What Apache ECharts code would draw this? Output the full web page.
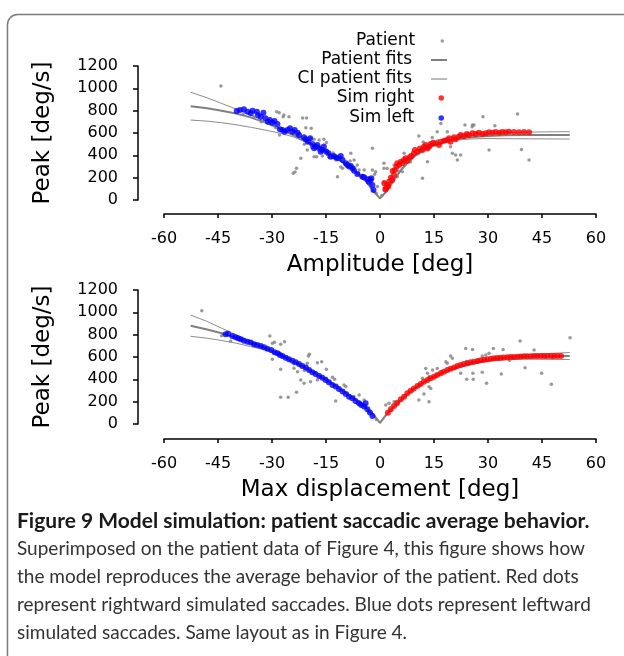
<!DOCTYPE html>
<html><head><meta charset="utf-8">
<script src="https://cdn.jsdelivr.net/npm/echarts@6/dist/echarts.min.js"></script>
<style>html,body{margin:0;padding:0;background:#fff}#c{width:624px;height:656px}</style>
</head><body><div id="c"></div>
<script>
// ---------- axis / text content ----------
const xTicks = [-60, -45, -30, -15, 0, 15, 30, 45, 60];
const yTicks = [0, 200, 400, 600, 800, 1000, 1200];
const xNames = ['Amplitude [deg]', 'Max displacement [deg]'];
const yName = 'Peak [deg/s]';
const legendNames = ['Patient', 'Patient fits', 'CI patient fits', 'Sim right', 'Sim left'];
const captionTitle = 'Figure 9 Model simulation: patient saccadic average behavior.';
const captionLines = [
  'Superimposed on the patient data of Figure 4, this figure shows how',
  'the model reproduces the average behavior of the patient. Red dots',
  'represent rightward simulated saccades. Blue dots represent leftward',
  'simulated saccades. Same layout as in Figure 4.'
];

// ---------- top panel: amplitude ----------
const fitA = [[-52.6,840],[-48,822],[-44,800],[-40,774],[-36,740],[-32,695],[-28,640],[-24,580],[-20,515],[-16,450],[-12,375],[-8,285],[-4,170],[-2,85],[0,15],[2,85],[4,185],[6,275],[8,345],[10,402],[12,445],[15,490],[18,523],[22,550],[26,565],[30,574],[35,579],[40,581],[46,582],[52.7,583]];
const ciHiA = [[-52.6,965],[-48,915],[-44,865],[-40,815],[-36,762],[-32,705],[-28,645],[-24,584],[-20,519],[-16,454],[-12,379],[-8,289],[-4,174],[-2,88],[0,17],[2,88],[4,189],[6,279],[8,350],[10,407],[12,451],[15,497],[18,531],[22,560],[26,579],[30,592],[35,602],[40,607],[46,610],[52.7,612]];
const ciLoA = [[-52.6,716],[-48,706],[-44,692],[-40,674],[-36,652],[-32,627],[-28,600],[-24,565],[-20,508],[-16,446],[-12,371],[-8,281],[-4,166],[-2,82],[0,13],[2,82],[4,181],[6,271],[8,340],[10,397],[12,438],[15,482],[18,514],[22,539],[26,548],[30,550],[35,549],[40,548],[46,547],[52.7,546]];
const patientA = [[-44.2,1021],[-28.7,791],[-27.9,582],[-26.7,761],[-25.3,746],[-28,782],[-26.9,746],[-21.5,735],[-20.4,735],[-19.1,642],[-20.6,648],[-19.3,552],[-18.3,543],[-16.9,537],[-15.6,543],[-14.9,516],[-23.2,284],[-24.1,239],[-23.6,250],[-22,373],[-20.2,448],[-18.3,388],[-17.6,388],[-16,394],[-14.2,382],[-12.3,358],[-11.8,209],[-10.4,284],[-8.3,349],[-7.2,358],[-6.3,313],[-5.8,269],[-4.4,269],[-2.6,134],[-2.1,463],[-0.7,120],[1.1,284],[1.1,164],[-8.1,418],[-10.9,295],
  [-38,770],[-35,745],[-33,700],[-31,690],[-29,650],[-26,610],[-24,590],[-22,560],[-21,500],[-19,470],[-17,470],[-15,450],[-13,420],[-11,380],[-9,330],[-7,290],[-6,240],[-5,220],[-3,200],[-1.5,230],[-1,60],[0.5,40],
  [16.9,686],[18.7,612],[15.9,612],[23.6,671],[25.7,671],[26.1,671],[28.6,746],[38.2,770],[31.9,665],[30.3,447],[39.3,453],[41.4,358],[10.8,573],[11.8,194],[19.6,477],[21,403],[21.5,358],[20.1,418],[22.4,403],[13.2,343],[6.7,418],[7.6,373],[8.5,343],[1.1,328],[2,283],[3.9,313],[-2.1,268],[-1.2,253],[6.2,253],[4.8,209],[25.6,656],
  [3,150],[5,260],[7,330],[9,400],[11,440],[12.5,470],[14,500],[16,530],[18,540],[20,560],[24,580],[27,600],[29,590],[33,600],[36,610],[12,520],[14.5,560]];
const simRightA = [[1.2,150],[1.5,95],[2.3,120],[3.0,200],[3.5,260],[4.8,330],[1.6,104],[2.0,134],[2.5,164],[3.4,179],[3.9,224],[4.1,268],[4.6,298],[5.3,313],[5.8,343],[6.2,328],[6.7,358],[7.1,373],[7.6,349],[8.3,382],[8.7,394],[9.4,418],[9.7,447],[10.4,432],[11.1,462],[11.8,447],[12.2,477],[12.7,492],[13.2,462],[13.6,477],[14.1,501],[14.8,513],[15.5,507],[16.4,492],[16.9,522],[17.8,531],[18.7,537],[19.2,552],[19.6,522],[20.6,561],[21.0,543],[21.9,567],[22.4,582],[23.3,573],[24.1,591],[24.7,582],[25.7,597],[26.6,591],[27.5,603],[28.4,591],[29.4,597],[30.3,606],[31.2,603],[32.1,609],[33.1,603],[34.0,609],[34.9,606],[35.8,612],[37.2,609],[38.6,606],[40.0,609],[41.4,606]];
const simLeftA = [[-39.8,797],[-38.9,806],[-37.8,812],[-36.8,791],[-35.9,776],[-35.4,800],[-34.2,791],[-33.9,761],[-33.1,746],[-32.4,782],[-31.8,731],[-31.1,701],[-30.6,716],[-29.9,692],[-29.3,707],[-28.5,681],[-27.8,633],[-27.1,627],[-26.5,612],[-25.7,627],[-25.0,642],[-24.3,612],[-23.7,627],[-22.9,603],[-22.5,582],[-21.1,561],[-20.6,543],[-20.0,522],[-19.4,552],[-18.8,501],[-18.3,463],[-17.9,478],[-17.4,493],[-16.9,463],[-16.5,433],[-16.0,448],[-15.6,478],[-14.9,433],[-14.3,418],[-13.7,388],[-12.9,394],[-12.3,382],[-11.7,373],[-10.9,394],[-10.4,358],[-9.5,328],[-9.1,313],[-8.6,299],[-8.1,305],[-7.7,284],[-7.2,263],[-6.3,233],[-4.9,209],[-4.4,203],[-3.5,185],[-3.1,164],[-2.6,179],[-2.1,134],[-1.8,90],[-2.4,195]];

// ---------- bottom panel: max displacement ----------
const fitD = [[-52.6,880],[-48,847],[-44,812],[-40,772],[-36,728],[-32,680],[-28,625],[-24,560],[-20,490],[-16,415],[-12,335],[-8,245],[-4,148],[-2,90],[0,10],[2,95],[4,160],[6,222],[8,280],[10,328],[12,370],[15,422],[18,466],[22,512],[26,546],[30,570],[35,590],[40,601],[46,607],[52.7,610]];
const ciHiD = [[-52.6,976],[-48,918],[-44,858],[-40,798],[-36,742],[-32,690],[-28,632],[-24,565],[-20,494],[-16,418],[-12,338],[-8,248],[-4,150],[-2,92],[0,12],[2,97],[4,162],[6,224],[8,282],[10,331],[12,374],[15,426],[18,471],[22,518],[26,554],[30,580],[35,603],[40,618],[46,630],[52.7,640]];
const ciLoD = [[-52.6,785],[-48,768],[-44,748],[-40,724],[-36,694],[-32,664],[-28,615],[-24,555],[-20,486],[-16,412],[-12,332],[-8,242],[-4,146],[-2,88],[0,8],[2,93],[4,158],[6,220],[8,278],[10,325],[12,366],[15,418],[18,461],[22,506],[26,538],[30,560],[35,575],[40,580],[46,579],[52.7,578]];
const patientD = [[-49.5,1015],[-41.5,743],[-30.6,788],[-29.9,723],[-29.3,732],[-26.5,737],[-27.6,714],[-29.9,579],[-28.8,633],[-27.6,490],[-23.9,499],[-22.9,469],[-21.1,514],[-20.2,544],[-19.6,624],[-19.9,608],[-17.4,549],[-16.2,558],[-27.6,239],[-25.5,239],[-23.2,284],[-22,394],[-21.1,364],[-19.3,379],[-17.4,394],[-14.9,490],[-13.2,418],[-12.6,400],[-12.3,206],[-10,350],[-9.5,335],[-7.2,245],[-5.8,260],[-6.3,185],[-4.4,215],[1.6,171],
  [-44,790],[-38,760],[-35,715],[-33,690],[-31,670],[-28,640],[-26,600],[-25,570],[-24,540],[-22,520],[-21,480],[-18,460],[-17,430],[-15,410],[-14,380],[-11,310],[-9,270],[-8,240],[-6,200],[-5,170],[-3,110],[-1,40],
  [23.8,677],[25.7,668],[19.6,609],[20.1,588],[18.3,558],[18.7,543],[31.5,677],[34.2,668],[38.9,743],[52.8,773],[42.8,662],[40.3,504],[44.9,454],[47.6,355],[29.6,364],[33.7,448],[28.4,463],[25.8,454],[25.9,400],[24.1,400],[22.4,454],[29.4,618],[28.4,609],[30.3,633],[15.9,498],[14.6,483],[13.2,454],[13.6,424],[12.7,498],[13.6,334],[14.1,319],[11.8,409],[10.8,215],[13.6,200],[12.2,269],[2.5,185],[3.9,200],[4.8,170],
  [3,120],[5,190],[7,250],[9,300],[11,350],[16,440],[17,470],[20,500],[22,520],[26,550],[27,570],[32,590],[35,600],[37,590],[41,600],[44,610],[46,600],[48,598],[24,560],[36,570]];
const simRightD = [[2.2,101],[3.0,131],[3.9,161],[4.8,191],[5.8,221],[6.7,245],[7.6,275],[8.5,298],[9.4,319],[10.4,340],[11.3,358],[12.2,379],[13.2,394],[14.1,409],[15.0,424],[15.9,439],[16.9,454],[17.8,468],[18.7,483],[19.6,495],[20.6,507],[21.5,519],[22.4,528],[23.3,537],[24.3,543],[25.2,552],[26.1,558],[27.1,564],[28.0,570],[28.9,576],[29.8,579],[30.8,585],[31.7,588],[32.6,591],[33.5,594],[34.4,596],[35.4,598],[36.3,600],[37.2,601],[38.2,603],[39.1,604],[40.0,606],[40.9,607],[41.9,607],[42.8,608],[43.7,608],[44.7,609],[45.6,609],[46.5,609],[47.5,610],[48.4,610],[49.3,610],[50.3,610]];
const simLeftD = [[-42.9,803],[-42.2,809],[-41.0,788],[-40.1,776],[-39.4,767],[-38.7,758],[-37.8,746],[-36.8,737],[-35.9,729],[-35.0,714],[-34.1,708],[-33.1,699],[-32.2,687],[-31.3,675],[-30.2,663],[-29.3,642],[-28.5,633],[-27.8,618],[-27.1,609],[-26.2,594],[-25.3,579],[-24.3,567],[-23.4,552],[-22.5,538],[-21.6,520],[-20.6,505],[-19.7,484],[-18.8,463],[-17.9,448],[-16.9,430],[-16.0,415],[-15.1,394],[-14.2,373],[-13.2,350],[-12.3,335],[-11.4,314],[-10.4,290],[-9.5,269],[-8.6,245],[-7.7,230],[-6.8,206],[-5.8,185],[-5.2,171],[-4.4,156],[-4.0,185],[-3.5,132],[-2.8,102],[-2.1,72]];

// ---------- build ----------
const FONT = 'DejaVu Sans';
const GRAY = '#808080';
const chart = echarts.init(document.getElementById('c'), null, {renderer: 'canvas'});
const gridTops = [66, 290];
const xOffsets = [14, 15];
const panels = [
  {fit: fitA, hi: ciHiA, lo: ciLoA, pat: patientA, sr: simRightA, sl: simLeftA},
  {fit: fitD, hi: ciHiD, lo: ciLoD, pat: patientD, sr: simRightD, sl: simLeftD}
];

const grids = [], xAxes = [], yAxes = [], series = [];
panels.forEach((p, i) => {
  grids.push({left: 164, width: 432, top: gridTops[i], height: 134});
  xAxes.push({
    gridIndex: i, type: 'value', min: xTicks[0], max: xTicks[xTicks.length - 1],
    interval: xTicks[1] - xTicks[0], offset: xOffsets[i],
    name: xNames[i], nameLocation: 'middle', nameGap: 40,
    nameTextStyle: {fontFamily: FONT, fontSize: 23, color: '#000'},
    axisLine: {onZero: false, lineStyle: {color: '#000', width: 1.5}},
    axisTick: {show: true, inside: false, length: 4, lineStyle: {color: '#000', width: 1.5}},
    axisLabel: {fontFamily: FONT, fontSize: 16, color: '#000', margin: 17, formatter: v => String(v)},
    splitLine: {show: false}
  });
  yAxes.push({
    gridIndex: i, type: 'value', min: yTicks[0], max: yTicks[yTicks.length - 1],
    interval: yTicks[1] - yTicks[0], offset: 26,
    name: yName, nameLocation: 'middle', nameGap: 83,
    nameTextStyle: {fontFamily: FONT, fontSize: 23, color: '#000'},
    axisLine: {show: true, onZero: false, lineStyle: {color: '#000', width: 1.5}},
    axisTick: {show: true, inside: false, length: 5, lineStyle: {color: '#000', width: 1.5}},
    axisLabel: {fontFamily: FONT, fontSize: 16, color: '#000', margin: 20, formatter: v => String(v)},
    splitLine: {show: false}
  });
  const ax = {xAxisIndex: i, yAxisIndex: i};
  series.push(Object.assign({type: 'line', name: legendNames[2], data: p.hi, symbol: 'none', z: 2,
    itemStyle: {color: '#8c8c8c'}, lineStyle: {color: '#8c8c8c', width: 1}}, ax));
  series.push(Object.assign({type: 'line', name: legendNames[2], data: p.lo, symbol: 'none', z: 2,
    itemStyle: {color: '#8c8c8c'}, lineStyle: {color: '#8c8c8c', width: 1}}, ax));
  series.push(Object.assign({type: 'line', name: legendNames[1], data: p.fit, symbol: 'none', z: 2,
    itemStyle: {color: GRAY}, lineStyle: {color: GRAY, width: 2}}, ax));
  series.push(Object.assign({type: 'scatter', name: legendNames[0], data: p.pat, symbolSize: 3.5, z: 3,
    itemStyle: {color: GRAY}}, ax));
  series.push(Object.assign({type: 'scatter', name: legendNames[3], data: p.sr, symbolSize: 6, z: 4,
    itemStyle: {color: '#ff0000'}}, ax));
  series.push(Object.assign({type: 'scatter', name: legendNames[4], data: p.sl, symbolSize: 6, z: 4,
    itemStyle: {color: '#0000ff'}}, ax));
});

const legendLayout = [
  {top: 31, w: 10, h: 3.5, pad: 17, right: 180, icon: 'circle'},
  {top: 50, w: 16, h: 2, pad: 14, right: 177, icon: 'rect'},
  {top: 69, w: 16, h: 1.2, pad: 14, right: 177, icon: 'rect'},
  {top: 88, w: 10, h: 5.5, pad: 17, right: 180, icon: 'circle'},
  {top: 108, w: 10, h: 5.5, pad: 17, right: 180, icon: 'circle'}
];
const legends = legendNames.map((n, k) => ({
  data: [{name: n, icon: legendLayout[k].icon}], orient: 'vertical', align: 'right', padding: 0,
  top: legendLayout[k].top, right: legendLayout[k].right,
  itemWidth: legendLayout[k].w, itemHeight: legendLayout[k].h,
  selectedMode: false,
  textStyle: {fontFamily: FONT, fontSize: 17, color: '#000', lineHeight: 20, padding: [0, legendLayout[k].pad, 0, 0]}
}));

const graphics = [
  {type: 'rect', silent: true, shape: {x: 7.5, y: 14.5, width: 660, height: 700, r: 10},
   style: {fill: 'none', stroke: '#7a7a7a', lineWidth: 1.5}},
  {type: 'text', silent: true, style: {x: 17, y: 521, text: captionTitle, fill: '#1a1a1a',
   font: 'bold 21px Lato', verticalAlign: 'middle'}}
];
captionLines.forEach((t, k) => graphics.push({type: 'text', silent: true,
  style: {x: 17, y: 549 + 28 * k, text: t, fill: '#333', font: '19px Lato', verticalAlign: 'middle'}}));

chart.setOption({
  animation: false,
  backgroundColor: '#fff',
  grid: grids, xAxis: xAxes, yAxis: yAxes, series: series,
  legend: legends, graphic: graphics
});
</script></body></html>
